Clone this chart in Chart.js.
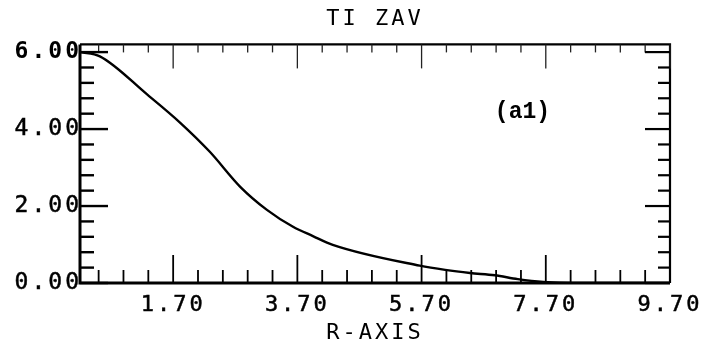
<!DOCTYPE html>
<html><head><meta charset="utf-8">
<script src="https://cdn.jsdelivr.net/npm/chart.js@4"></script>
<style>html,body{margin:0;padding:0;background:#fff}#wrap{width:707px;height:350px;position:relative}</style>
</head><body><div id="wrap"><canvas id="c"></canvas></div>
<script>
// ---- data ----
const rValues  = [0.2, 0.52, 1.28, 1.81, 2.29, 2.78, 3.21, 3.63, 3.95, 4.27, 5.67, 6.08, 6.48, 6.88, 7.25, 7.66, 8.5, 9.7];
const tiValues = [6.0, 5.89, 4.90, 4.17, 3.41, 2.50, 1.90, 1.46, 1.22, 0.99, 0.45, 0.34, 0.26, 0.20, 0.10, 0.03, 0.0, 0.0];

const xTickValues = [1.7, 3.7, 5.7, 7.7, 9.7];
const xTickLabels = ["1.70", "3.70", "5.70", "7.70", "9.70"];
const xMinorTicks = [0.5, 0.9, 1.3, 2.1, 2.5, 2.9, 3.3, 4.1, 4.5, 4.9, 5.3, 6.1, 6.5, 6.9, 7.3, 8.1, 8.5, 8.9, 9.3];
const yTickValues = [0, 2, 4, 6];
const yTickLabels = ["0.00", "2.00", "4.00", "6.00"];
const yMinorTicks = [0.4, 0.8, 1.2, 1.6, 2.4, 2.8, 3.2, 3.6, 4.4, 4.8, 5.2, 5.6];
const titleText = "TI ZAV";
const xAxisTitle = "R-AXIS";
const panelLabel = "(a1)";
const panelLabelPos = [6.88, 4.45];

const MONO = "'DejaVu Sans Mono', 'Liberation Mono', monospace";

const framePlugin = {
  id: 'frame',
  beforeDraw(chart) { chart.ctx.letterSpacing = '3px'; },
  afterDatasetsDraw(chart) {
    const {ctx, chartArea: a, scales: {x, y}} = chart;
    ctx.save();
    ctx.letterSpacing = '0px';
    ctx.strokeStyle = '#000';
    ctx.lineCap = 'butt';
    ctx.lineWidth = 3;
    ctx.beginPath(); ctx.moveTo(a.left, a.top); ctx.lineTo(a.left, a.bottom); ctx.lineTo(a.right, a.bottom); ctx.stroke();
    ctx.lineWidth = 2.2;
    ctx.beginPath(); ctx.moveTo(a.left, a.top); ctx.lineTo(a.right, a.top); ctx.lineTo(a.right, a.bottom); ctx.stroke();
    const tick = (x1, y1, x2, y2) => { ctx.beginPath(); ctx.moveTo(x1, y1); ctx.lineTo(x2, y2); ctx.stroke(); };
    ctx.lineWidth = 1.8;
    xMinorTicks.forEach(v => { const px = x.getPixelForValue(v); tick(px, a.bottom, px, a.bottom - 13); });
    xTickValues.forEach(v => { const px = x.getPixelForValue(v); tick(px, a.bottom, px, a.bottom - 28); });
    ctx.lineWidth = 1.3; ctx.strokeStyle = '#222';
    xMinorTicks.forEach(v => { const px = x.getPixelForValue(v); tick(px, a.top, px, a.top + 8); });
    xTickValues.forEach(v => { const px = x.getPixelForValue(v); tick(px, a.top, px, a.top + 24); });
    ctx.strokeStyle = '#000'; ctx.lineWidth = 2.4;
    yMinorTicks.forEach(v => { const py = y.getPixelForValue(v); tick(a.left, py, a.left + 14, py); });
    yTickValues.forEach(v => { const py = y.getPixelForValue(v); tick(a.left, py, a.left + 28, py); });
    ctx.lineWidth = 2.2;
    yMinorTicks.forEach(v => { const py = y.getPixelForValue(v); tick(a.right, py, a.right - 12, py); });
    yTickValues.forEach(v => { const py = y.getPixelForValue(v); tick(a.right, py, a.right - 25, py); });
    ctx.fillStyle = '#000';
    ctx.font = "bold 23px 'Liberation Mono', monospace";
    ctx.textAlign = 'left'; ctx.textBaseline = 'middle';
    ctx.fillText(panelLabel, x.getPixelForValue(panelLabelPos[0]), y.getPixelForValue(panelLabelPos[1]));
    ctx.restore();
  }
};

new Chart(document.getElementById('c'), {
  type: 'line',
  data: {
    datasets: [{
      data: rValues.map((r, i) => ({x: r, y: tiValues[i]})),
      borderColor: '#000', borderWidth: 2.4, pointRadius: 0,
      cubicInterpolationMode: 'monotone', fill: false
    }]
  },
  options: {
    responsive: true, maintainAspectRatio: false, animation: false,
    layout: {padding: {left: 0, right: 37, top: 0, bottom: 0}},
    plugins: {
      legend: {display: false}, tooltip: {enabled: false},
      title: {display: true, text: titleText, fullSize: false, color: '#000',
              font: {family: MONO, size: 22, weight: 'normal'}, padding: {top: 6, bottom: 12}}
    },
    scales: {
      x: {type: 'linear', min: 0.2, max: 9.7,
          afterBuildTicks: s => { s.ticks = xTickValues.map(v => ({value: v})); },
          afterFit: s => { s.height = 67; },
          grid: {display: false, drawTicks: false}, border: {display: false},
          ticks: {color: '#000', padding: 9, maxRotation: 0, autoSkip: false,
                  textStrokeColor: '#000', textStrokeWidth: 0.5,
                  font: {family: MONO, size: 22}, callback: (v, i) => xTickLabels[i]},
          title: {display: true, text: xAxisTitle, color: '#000', font: {family: MONO, size: 22},
                  padding: {top: 0, bottom: 4}}
      },
      y: {type: 'linear', min: 0, max: 6.2,
          afterBuildTicks: s => { s.ticks = yTickValues.map(v => ({value: v})); },
          afterFit: s => { s.width = 80; },
          grid: {display: false, drawTicks: false}, border: {display: false},
          ticks: {color: '#000', padding: -2, autoSkip: false,
                  textStrokeColor: '#000',
                  textStrokeWidth: c => (c.tick && c.tick.value === 6) ? 0 : 0.5,
                  font: c => ({family: MONO, size: 23, weight: (c.tick && c.tick.value === 6) ? 'bold' : 'normal'}),
                  callback: (v, i) => yTickLabels[i]}
      }
    }
  },
  plugins: [framePlugin]
});
</script></body></html>
